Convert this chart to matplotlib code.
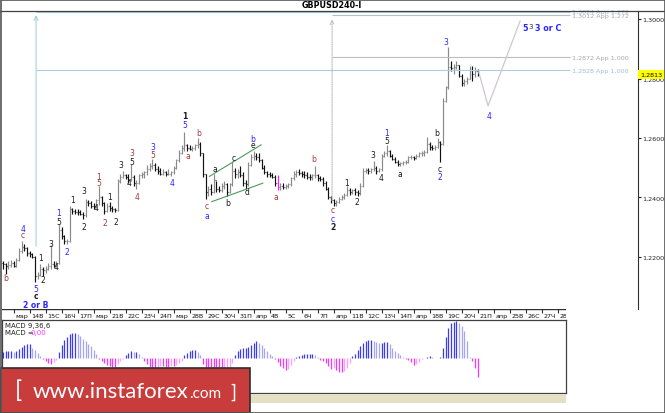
import numpy as np
import matplotlib.pyplot as plt
from matplotlib.lines import Line2D
from matplotlib.patches import Rectangle

# GBPUSD H4 bars, 10 Mar .. 21 Apr 2017
highs = [1.2187, 1.2180, 1.2185, 1.2190, 1.2185, 1.2195, 1.2230, 1.2254, 1.2245, 1.2235,
         1.2220, 1.2215, 1.2205, 1.2150, 1.2176, 1.2165, 1.2170, 1.2180, 1.2240, 1.2185,
         1.2185, 1.2310, 1.2300, 1.2275, 1.2262, 1.2370, 1.2365, 1.2362, 1.2360, 1.2358,
         1.2350, 1.2395, 1.2392, 1.2388, 1.2380, 1.2395, 1.2439, 1.2405, 1.2385, 1.2380,
         1.2385, 1.2370, 1.2365, 1.2462, 1.2480, 1.2488, 1.2480, 1.2478, 1.2513, 1.2475,
         1.2460, 1.2480, 1.2485, 1.2490, 1.2510, 1.2515, 1.2530, 1.2515, 1.2505, 1.2500,
         1.2495, 1.2490, 1.2495, 1.2490, 1.2505, 1.2530, 1.2560, 1.2575, 1.2620, 1.2580,
         1.2575, 1.2572, 1.2580, 1.2600, 1.2585, 1.2550, 1.2480, 1.2440, 1.2445, 1.2480,
         1.2455, 1.2440, 1.2450, 1.2455, 1.2450, 1.2450, 1.2523, 1.2500, 1.2495, 1.2505,
         1.2485, 1.2460, 1.2520, 1.2545, 1.2556, 1.2550, 1.2548, 1.2530, 1.2510, 1.2490,
         1.2485, 1.2482, 1.2475, 1.2475, 1.2450, 1.2448, 1.2445, 1.2450, 1.2470, 1.2490,
         1.2492, 1.2495, 1.2490, 1.2488, 1.2485, 1.2478, 1.2480, 1.2505, 1.2480, 1.2472,
         1.2470, 1.2455, 1.2435, 1.2405, 1.2395, 1.2390, 1.2400, 1.2410, 1.2415, 1.2440,
         1.2432, 1.2430, 1.2432, 1.2425, 1.2450, 1.2500, 1.2500, 1.2498, 1.2500, 1.2523,
         1.2505, 1.2500, 1.2545, 1.2555, 1.2576, 1.2560, 1.2545, 1.2535, 1.2525, 1.2520,
         1.2522, 1.2525, 1.2540, 1.2542, 1.2540, 1.2545, 1.2552, 1.2555, 1.2560, 1.2603,
         1.2585, 1.2575, 1.2575, 1.2600, 1.2590, 1.2735, 1.2775, 1.2906, 1.2859, 1.2849,
         1.2859, 1.2845, 1.2815, 1.2798, 1.2805, 1.2842, 1.2842, 1.2839, 1.2832]
lows = [1.2160, 1.2143, 1.2160, 1.2165, 1.2165, 1.2168, 1.2185, 1.2215, 1.2220, 1.2205,
        1.2200, 1.2195, 1.2116, 1.2125, 1.2135, 1.2135, 1.2145, 1.2155, 1.2160, 1.2165,
        1.2165, 1.2175, 1.2260, 1.2245, 1.2245, 1.2250, 1.2345, 1.2345, 1.2340, 1.2340,
        1.2328, 1.2335, 1.2370, 1.2365, 1.2360, 1.2365, 1.2375, 1.2370, 1.2345, 1.2350,
        1.2355, 1.2350, 1.2352, 1.2355, 1.2450, 1.2465, 1.2462, 1.2450, 1.2455, 1.2440,
        1.2429, 1.2445, 1.2465, 1.2465, 1.2475, 1.2490, 1.2495, 1.2490, 1.2480, 1.2475,
        1.2475, 1.2472, 1.2475, 1.2472, 1.2480, 1.2495, 1.2520, 1.2545, 1.2555, 1.2555,
        1.2558, 1.2555, 1.2560, 1.2565, 1.2540, 1.2470, 1.2395, 1.2405, 1.2410, 1.2415,
        1.2420, 1.2418, 1.2420, 1.2430, 1.2405, 1.2415, 1.2440, 1.2465, 1.2465, 1.2470,
        1.2440, 1.2429, 1.2440, 1.2505, 1.2525, 1.2525, 1.2520, 1.2495, 1.2480, 1.2470,
        1.2470, 1.2465, 1.2440, 1.2425, 1.2425, 1.2428, 1.2430, 1.2432, 1.2440, 1.2460,
        1.2470, 1.2475, 1.2470, 1.2465, 1.2462, 1.2460, 1.2460, 1.2465, 1.2455, 1.2455,
        1.2440, 1.2425, 1.2395, 1.2380, 1.2372, 1.2372, 1.2380, 1.2390, 1.2395, 1.2405,
        1.2410, 1.2412, 1.2410, 1.2405, 1.2410, 1.2435, 1.2482, 1.2480, 1.2482, 1.2488,
        1.2480, 1.2486, 1.2490, 1.2535, 1.2540, 1.2535, 1.2525, 1.2515, 1.2506, 1.2506,
        1.2510, 1.2512, 1.2515, 1.2528, 1.2525, 1.2528, 1.2535, 1.2540, 1.2540, 1.2548,
        1.2560, 1.2560, 1.2558, 1.2565, 1.2519, 1.2578, 1.2720, 1.2765, 1.2825, 1.2815,
        1.2832, 1.2805, 1.2775, 1.2775, 1.2782, 1.2798, 1.2792, 1.2805, 1.2810]
closes = [1.2175, 1.2170, 1.2172, 1.2180, 1.2170, 1.2190, 1.2220, 1.2235, 1.2230, 1.2215,
          1.2210, 1.2200, 1.2135, 1.2140, 1.2160, 1.2155, 1.2160, 1.2170, 1.2175, 1.2170,
          1.2180, 1.2290, 1.2270, 1.2255, 1.2255, 1.2360, 1.2355, 1.2352, 1.2350, 1.2345,
          1.2340, 1.2385, 1.2380, 1.2372, 1.2370, 1.2390, 1.2400, 1.2380, 1.2355, 1.2370,
          1.2365, 1.2360, 1.2358, 1.2455, 1.2470, 1.2475, 1.2470, 1.2460, 1.2470, 1.2450,
          1.2450, 1.2475, 1.2478, 1.2485, 1.2495, 1.2505, 1.2510, 1.2495, 1.2490, 1.2480,
          1.2485, 1.2480, 1.2480, 1.2485, 1.2500, 1.2525, 1.2550, 1.2565, 1.2575, 1.2565,
          1.2562, 1.2565, 1.2575, 1.2580, 1.2550, 1.2480, 1.2420, 1.2430, 1.2420, 1.2460,
          1.2430, 1.2425, 1.2440, 1.2445, 1.2420, 1.2445, 1.2490, 1.2480, 1.2485, 1.2475,
          1.2450, 1.2445, 1.2510, 1.2535, 1.2540, 1.2535, 1.2525, 1.2500, 1.2485, 1.2478,
          1.2475, 1.2470, 1.2450, 1.2435, 1.2440, 1.2435, 1.2440, 1.2445, 1.2465, 1.2480,
          1.2485, 1.2482, 1.2480, 1.2475, 1.2470, 1.2468, 1.2475, 1.2475, 1.2465, 1.2462,
          1.2450, 1.2430, 1.2400, 1.2390, 1.2380, 1.2385, 1.2395, 1.2400, 1.2410, 1.2425,
          1.2420, 1.2425, 1.2418, 1.2415, 1.2440, 1.2490, 1.2492, 1.2488, 1.2495, 1.2500,
          1.2490, 1.2495, 1.2540, 1.2548, 1.2555, 1.2540, 1.2530, 1.2520, 1.2512, 1.2515,
          1.2518, 1.2520, 1.2535, 1.2535, 1.2532, 1.2540, 1.2548, 1.2550, 1.2552, 1.2580,
          1.2570, 1.2565, 1.2570, 1.2585, 1.2580, 1.2725, 1.2770, 1.2840, 1.2835, 1.2840,
          1.2845, 1.2810, 1.2785, 1.2790, 1.2800, 1.2830, 1.2815, 1.2825, 1.2813]
first_open = 1.2180
marked_bar = 103

# MACD(9,36,6) histogram, in units of 0.0001
macd_hist = [6, 7, 7, 7, 6, 7, 9, 11, 13, 14, 14.5, 10, 8, 5, 2,
             -1, -3, -5, -5.5, -4, -1.5,
             6, 13, 18, 21, 24, 25, 25, 24, 22, 19, 17, 14, 12, 8, 4,
             -1, -3, -5, -7, -8, -9, -9, -6, -3, -1,
             3, 5, 7, 6, 6, 4, 1,
             -3, -6, -9, -10, -10, -9, -8, -8, -9, -9, -8, -8, -7, -5, -3,
             3, 5, 7, 8, 8, 6, 3,
             -6, -10, -12, -12, -12, -12, -12, -12, -11, -10, -9, -5,
             3, 7, 9, 10, 10, 11, 13, 15, 17, 15, 13, 10, 7, 4, 2,
             -1, -4, -8, -10, -12, -11, -7, -3,
             1, 2, 3, 4, 4, 4, 4, 3, 1,
             -2, -3, -5, -8, -11, -10, -12, -13.5, -14, -13, -10, -5,
             2, 4, 8, 12, 15, 17, 18, 18, 17, 16.5, 15, 15, 16, 16, 14, 10, 7, 5, 3, 1,
             -1, -2, -4, -6.5, -6, -4, -1,
             0.5, 1.5, 2, 1.5, 0.5, 0.3, 1.5,
             10, 21, 30, 35, 36, 37, 35, 32, 27, 17, 1,
             -3, -10, -19]

day_labels = ['мар', '14В', '15С', '16Ч', '17П', 'мар', '21В', '22С', '23Ч', '24П',
              'мар', '28В', '29С', '30Ч', '31П', 'апр', '4В', '5С', '6Ч', '7П',
              'апр', '11В', '12С', '13Ч', '14П', 'апр', '18В', '19С', '20Ч', '21П',
              'апр', '25В', '26С', '27Ч', '28П']
first_day_bar = 4

price_ticks = [1.22, 1.24, 1.26, 1.28, 1.30]
last_price = 1.2813

# wave labels: bar index, price, text, colour, bold
BLUE, RED, BLK = '#2626ff', '#a33a3a', '#1a1a1a'
wave_labels = [
    (1, 1.2130, 'b', RED, False), (7.5, 1.2297, '4', BLUE, False), (7.5, 1.2274, 'c', RED, False),
    (12.2, 1.2093, '5', BLUE, False), (12.2, 1.2069, 'c', BLK, True), (12.2, 1.2042, '2 or B', BLUE, True),
    (14, 1.2197, '1', BLK, False), (15, 1.2123, '2', BLK, False), (18, 1.2247, '3', BLK, False),
    (20, 1.2167, '4', BLK, False), (21, 1.2351, '1', BLUE, False), (21, 1.2321, '5', BLK, False),
    (24, 1.2220, '2', BLUE, False), (26, 1.2392, '1', BLK, False), (30.5, 1.2422, '3', BLK, False),
    (30.5, 1.2304, '2', BLK, False), (35, 1.2365, '4', BLK, False), (36, 1.2472, '1', RED, False),
    (36, 1.2449, '5', RED, False), (38.3, 1.2315, '2', RED, False), (40, 1.2405, '1', BLK, False),
    (42.4, 1.2321, '2', BLK, False), (44.2, 1.2510, '3', BLK, False), (47.3, 1.2452, '4', BLK, False),
    (48.4, 1.2550, '3', RED, False), (48.4, 1.2520, '5', BLK, False), (50.2, 1.2405, '4', RED, False),
    (56.2, 1.2573, '3', BLUE, False), (56.2, 1.2546, '5', RED, False), (63.4, 1.2452, '4', BLUE, False),
    (68.2, 1.2674, '1', BLK, True), (68.2, 1.2644, '5', BLUE, False), (69.4, 1.2540, 'a', RED, False),
    (73.5, 1.2620, 'b', RED, False), (76.5, 1.2372, 'c', RED, False), (76.5, 1.2341, 'a', BLUE, False),
    (79.5, 1.2499, 'a', BLK, False), (84.4, 1.2382, 'b', BLK, False), (86.6, 1.2536, 'c', BLK, False),
    (91.5, 1.2419, 'd', BLK, False), (93.7, 1.2597, 'b', BLUE, False), (93.7, 1.2577, 'e', BLK, False),
    (102.4, 1.2405, 'a', RED, False), (116.6, 1.2530, 'b', RED, False), (123.7, 1.2358, 'c', RED, False),
    (123.7, 1.2331, 'c', BLUE, False), (123.7, 1.2304, '2', BLK, True), (129, 1.2452, '1', BLK, False),
    (132.7, 1.2385, '2', BLK, False), (138.7, 1.2543, '3', BLK, False), (141.7, 1.2466, '4', BLK, False),
    (144, 1.2617, '1', BLUE, False), (144, 1.2590, '5', BLK, False), (148.9, 1.2479, 'a', BLK, False),
    (162.7, 1.2620, 'b', BLK, False), (163.9, 1.2496, 'c', BLK, False), (163.9, 1.2469, '2', BLUE, False),
    (166, 1.2926, '3', BLUE, False), (182.2, 1.2677, '4', BLUE, False),
]

# triangle channel lines, projection and target levels
channel_upper = ([77.4, 96.8], [1.2471, 1.2577])
channel_lower = ([78.3, 97.4], [1.2386, 1.2448])
proj_x = [178.4, 181.9, 193.9]
proj_y = [1.2822, 1.2708, 1.2993]
blue_arrow = (12.4, 1.2227, 1.3022)
gray_arrow = (123.4, 1.2380, 1.3008)
levels = [(1.3024, 12.4, 'blue', '1,3024 App 1,272'),
          (1.3012, 123.4, 'gray', '1,3012 App 1,272'),
          (1.2872, 123.4, 'gray', '1,2872 App 1,000'),
          (1.2828, 12.4, 'blue', '1,2828 App 1,000')]
level_end = 212.6

W, H = 665, 414
PX = 16 / 6   # pixels per 4h bar
X0 = 3        # pixel of first bar
LBLUE, LGRAY = '#a9cfe0', '#bdbdbd'


def rect(x, y, w, h):
    return [x / W, 1 - (y + h) / H, w / W, h / H]


def xrange_px(a, b):
    return ((a - X0) / PX, (b - X0) / PX)


plt.rcParams['font.family'] = ['DejaVu Sans']
fig = plt.figure(figsize=(W / 100, H / 100), dpi=100)
fig.patch.set_facecolor('white')

# ---- main price panel
ax = fig.add_axes(rect(2, 12, 636, 298))
ax.set_xlim(*xrange_px(2, 638))
ax.set_ylim(1.20252, 1.30269)
for s in ['left', 'top', 'bottom']:
    ax.spines[s].set_visible(False)
ax.spines['right'].set_color('#303030')
ax.spines['right'].set_linewidth(0.8)
ax.set_xticks([])
ax.yaxis.tick_right()
ax.set_yticks(price_ticks)
ax.set_yticklabels([f'{p:.4f}'.replace('.', ',') for p in price_ticks])
ax.tick_params(axis='y', length=2.5, width=0.8, colors='#202020', labelsize=4.6, pad=0.8)

highs_a, lows_a, closes_a = np.array(highs), np.array(lows), np.array(closes)
idx = np.arange(len(closes_a))
opens = np.r_[first_open, closes_a[:-1]]
cols = np.where(closes_a >= opens, '#8a8a8a', '#111111').astype(object)
cols[marked_bar] = '#ff22ff'
ax.vlines(idx, lows_a, highs_a, colors=cols, lw=0.85)
ax.hlines(opens, idx - 0.42, idx, colors=cols, lw=0.85)
ax.hlines(closes_a, idx, idx + 0.42, colors=cols, lw=0.85)

# levels and arrows
for price, start, kind, text in levels:
    c = LBLUE if kind == 'blue' else LGRAY
    ax.hlines(price, start, level_end, colors=c, lw=0.8)
    ax.text(level_end + 0.8, price, text, color='#9cbfd0' if kind == 'blue' else '#a8a8a8',
            fontsize=4.6, va='center', ha='left')

bx, by0, by1 = blue_arrow
ax.annotate('', xy=(bx, by1), xytext=(bx, by0),
            arrowprops=dict(arrowstyle='->', color=LBLUE, lw=0.8, mutation_scale=7))
gx, gy0, gy1 = gray_arrow
ax.annotate('', xy=(gx, gy1), xytext=(gx, gy0),
            arrowprops=dict(arrowstyle='->', color=LGRAY, lw=0.8, ls=(0, (1, 1)), mutation_scale=7))

ax.plot(*channel_upper, color='#4d9a5c', lw=0.8)
ax.plot(*channel_lower, color='#4d9a5c', lw=0.8)
ax.plot(proj_x, proj_y, color='#cfc6cf', lw=0.9)

for i, p, s, c, b in wave_labels:
    ax.text(i, p, s, color=c, fontsize=5.5, ha='center', va='center',
            fontweight='bold' if b else 'normal')

ax.text(195.8, 1.2973, '5', color=BLUE, fontsize=5.8, ha='center', va='center', fontweight='bold')
ax.text(197.9, 1.2976, '3', color='#333333', fontsize=5, ha='center', va='center')
ax.text(204.6, 1.2973, '3 or C', color=BLUE, fontsize=5.8, ha='center', va='center', fontweight='bold')

ax.text(1.003, last_price, f'{last_price:.4f}'.replace('.', ','), transform=ax.get_yaxis_transform(),
        fontsize=4.6, ha='left', va='center', color='black',
        bbox=dict(boxstyle='square,pad=0.3', fc='#ffff00', ec='none'))

# ---- date row
axd = fig.add_axes(rect(2, 310, 564, 11))
axd.set_xlim(*xrange_px(2, 566))
axd.set_ylim(0, 1)
axd.axis('off')
axd.axhline(1, color='#303030', lw=1)
tick_pos = first_day_bar + 6 * np.arange(len(day_labels))
axd.vlines(tick_pos, 0.68, 1, colors='#303030', lw=0.8)
for t, lab in zip(tick_pos, day_labels):
    axd.text(t + 0.55, 0.42, lab, fontsize=4.6, ha='left', va='center', color='#111111', clip_on=True)

# ---- MACD panel
axm = fig.add_axes(rect(2, 321, 564, 73))
axm.set_xlim(*xrange_px(2, 566))
axm.set_ylim(-34.7e-4, 38.3e-4)
axm.set_xticks([])
axm.set_yticks([])
for s in axm.spines.values():
    s.set_color('#404040')
    s.set_linewidth(0.9)
hist = np.array(macd_hist) * 1e-4
prev = np.r_[hist[0], hist[:-1]]
mcols = np.where(hist >= 0,
                 np.where(hist >= prev, '#3a3aff', '#a5a5f5'),
                 np.where(hist <= prev, '#ff33ff', '#ff9cff'))
axm.vlines(np.arange(len(hist)), 0, hist, colors=mcols, lw=0.9)
axm.text(0.005, 0.93, 'MACD 9,36,6', transform=axm.transAxes, fontsize=5, color='#222222', va='center')
axm.text(0.005, 0.83, 'MACD =', transform=axm.transAxes, fontsize=5, color='#222222', va='center')
axm.text(0.05, 0.83, '0,00', transform=axm.transAxes, fontsize=5, color='#ff33ff', va='center')

# ---- frame, title, strip, banner
fig.add_artist(Line2D([0, 1], [1 - 11.5 / H] * 2, color='#404040', lw=0.9))
fig.text(332 / W, 1 - 5.8 / H, 'GBPUSD240-I', fontsize=5.8, fontweight='bold', ha='center', va='center')
fig.add_artist(Rectangle((0, 1 - 404 / H), 566 / W, 9 / H, transform=fig.transFigure,
                         fc='#e4e0c6', ec='none', zorder=0.5))
fig.add_artist(Rectangle((0, 0), 250 / W, 45 / H, transform=fig.transFigure,
                         fc='#c93c3c', ec='#2e2e2e', lw=1.2, zorder=2))
fig.add_artist(Rectangle((0.5 / W, 0.5 / H), 664 / W, 413 / H, transform=fig.transFigure,
                         fill=False, ec='#555555', lw=1.2, zorder=5))

bfont = dict(family=['Lato', 'DejaVu Sans'], weight='normal', color='white')
fig.text(15 / W, 1 - 398 / H, '[', fontsize=17, va='baseline', ha='left', zorder=3, **bfont)
t_main = fig.text(33 / W, 1 - 398 / H, 'www.instaforex', fontsize=16, va='baseline', ha='left',
                  zorder=3, **bfont)
fig.canvas.draw()
bb = t_main.get_window_extent()
fig.text(bb.x1 / W, 1 - 398 / H, '.com', fontsize=11, va='baseline', ha='left', zorder=3, **bfont)
fig.text(230 / W, 1 - 398 / H, ']', fontsize=14, va='baseline', ha='left', zorder=3, **bfont)

fig.savefig('out.png', dpi=100)
